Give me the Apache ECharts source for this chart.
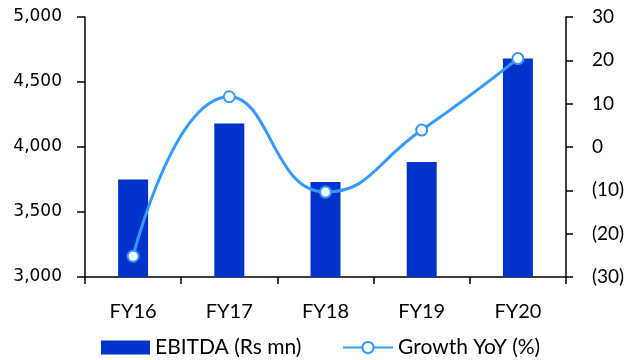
<!DOCTYPE html>
<html>
<head>
<meta charset="utf-8">
<script src="https://cdn.jsdelivr.net/npm/echarts@6/dist/echarts.min.js"></script>
<style>
  html, body { margin: 0; padding: 0; background: #fff; }
  #chart { width: 633px; height: 360px; }
</style>
</head>
<body>
<div id="chart"></div>
<script>
var years = ['FY16', 'FY17', 'FY18', 'FY19', 'FY20'];
var ebitda = [3750, 4180, 3730, 3885, 4680];
var growth = [-25.2, 11.6, -10.4, 3.9, 20.4];

var chart = echarts.init(document.getElementById('chart'));

var legendText = { fontFamily: 'Lato, sans-serif', fontSize: 21, color: '#000' };

option = {
  animation: false,
  grid: { left: 85, right: 67, top: 17, bottom: 83 },
  legend: [
    {
      left: 96,
      top: 332,
      itemWidth: 49,
      itemHeight: 14,
      itemGap: 0,
      textStyle: legendText,
      data: [{ name: 'EBITDA (Rs mn)', icon: 'rect' }]
    },
    {
      left: 337,
      top: 332,
      itemWidth: 50,
      itemHeight: 14,
      textStyle: legendText,
      data: [{ name: 'Growth YoY (%)' }]
    }
  ],
  xAxis: {
    type: 'category',
    data: years,
    axisLine: { onZero: false, lineStyle: { color: '#000', width: 1.5 } },
    axisTick: { show: true, length: 7, lineStyle: { color: '#000', width: 1.5 } },
    axisLabel: { fontFamily: 'Lato, sans-serif', fontSize: 20, color: '#000', margin: 25 }
  },
  yAxis: [
    {
      type: 'value',
      min: 3000,
      max: 5000,
      interval: 500,
      splitLine: { show: false },
      axisLine: { show: true, lineStyle: { color: '#000', width: 1.5 } },
      axisTick: { show: true, length: 8, lineStyle: { color: '#000', width: 1.5 } },
      axisLabel: {
        fontFamily: 'DejaVu Sans, sans-serif',
        fontSize: 17,
        color: '#000',
        margin: 23,
        formatter: function (v) { return v.toLocaleString('en-US'); }
      }
    },
    {
      type: 'value',
      min: -30,
      max: 30,
      interval: 10,
      position: 'right',
      splitLine: { show: false },
      axisLine: { show: true, lineStyle: { color: '#000', width: 1.5 } },
      axisTick: { show: true, length: 7, lineStyle: { color: '#000', width: 1.5 } },
      axisLabel: {
        fontFamily: 'Lato, sans-serif',
        fontSize: 19,
        color: '#000',
        margin: 26,
        formatter: function (v) { return v < 0 ? '(' + Math.abs(v) + ')' : String(v); }
      }
    }
  ],
  series: [
    {
      name: 'EBITDA (Rs mn)',
      type: 'bar',
      data: ebitda,
      barWidth: 30,
      itemStyle: { color: '#0033CC' }
    },
    {
      name: 'Growth YoY (%)',
      type: 'line',
      yAxisIndex: 1,
      data: growth,
      smooth: 0.5,
      symbol: 'emptyCircle',
      symbolSize: 11,
      lineStyle: { color: '#3399FF', width: 3 },
      itemStyle: { color: '#3399FF', borderWidth: 2 }
    }
  ]
};

chart.setOption(option);
</script>
</body>
</html>
